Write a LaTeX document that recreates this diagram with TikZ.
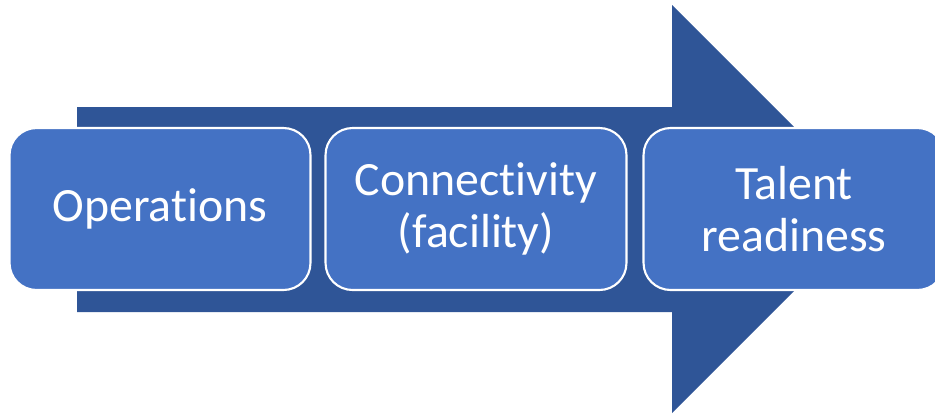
\documentclass[tikz,border=0pt]{standalone}
\usepackage{fontspec}
\setmainfont{Carlito}[Ligatures={NoCommon}]
\definecolor{arrowblue}{HTML}{2F5597}
\definecolor{boxblue}{HTML}{4472C4}

\begin{document}
\begin{tikzpicture}[x=0.02cm, y=-0.02cm,
    stage/.style={rectangle, rounded corners=0.54cm, draw=white, line width=1.2pt,
      fill=boxblue, text=white, minimum width=6.02cm, minimum height=3.24cm,
      align=center, font=\fontsize{27.2}{29.5}\selectfont}]

        \useasboundingbox (0,0) rectangle (935,414);
        \clip (0,0) rectangle (935,414);

        % The big arrow behind the stages
        \fill[arrowblue] (77,107) -- (672,107) -- (672,5) -- (876,209)
            -- (672,413) -- (672,312) -- (77,312) -- cycle;

        % Loop to place the three stages along the arrow
        \foreach \i/\x/\t in {1/160/Operations, 2/476/{Connectivity\\(facility)}, 3/794/{Talent\\readiness}} {
            \node[stage] (S\i) at (\x,209) {\t};
        }

    \end{tikzpicture}
\end{document}
